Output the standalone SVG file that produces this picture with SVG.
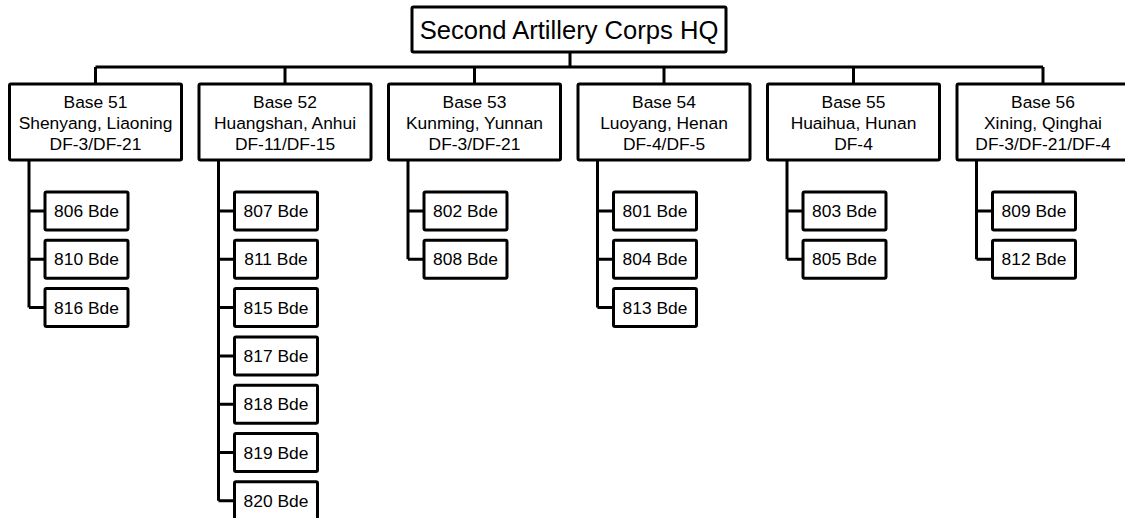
<svg xmlns="http://www.w3.org/2000/svg" width="1125" height="518" viewBox="0 0 1125 518">
<style>
.box{fill:#fff;stroke:#000;stroke-width:3}
.ln{fill:none;stroke:#000;stroke-width:3}
text{font-family:"Liberation Sans",Arial,sans-serif;fill:#000;text-anchor:middle}
.b{font-size:17.4px}
.hq{font-size:25.6px}
</style>
<rect width="1125" height="518" fill="#fff"/>
<g id="connectors" class="ln">
<path d="M570 52V67M95.5 67H1043"/>
<path d="M95.5 67V84M285 67V84M474.5 67V84M664 67V84M853.5 67V84M1043 67V84"/>
<path d="M29 160V307.6M29 211H45M29 259.3H45M29 307.6H45"/>
<path d="M218.5 160V500.8M218.5 211H234.5M218.5 259.3H234.5M218.5 307.6H234.5M218.5 355.9H234.5M218.5 404.2H234.5M218.5 452.5H234.5M218.5 500.8H234.5"/>
<path d="M408 160V259.3M408 211H424M408 259.3H424"/>
<path d="M597.5 160V307.6M597.5 211H613.5M597.5 259.3H613.5M597.5 307.6H613.5"/>
<path d="M787 160V259.3M787 211H803M787 259.3H803"/>
<path d="M976.5 160V259.3M976.5 211H992.5M976.5 259.3H992.5"/>
</g>
<g id="hq"><rect class="box" x="412" y="7" width="314" height="45" rx="1.5"/><text class="hq" x="569" y="38.5">Second Artillery Corps HQ</text></g>
<g id="base51"><rect class="box" x="9.5" y="84" width="172" height="76" rx="1.5"/><text class="b" x="95.5" y="108">Base 51</text><text class="b" x="95.5" y="129">Shenyang, Liaoning</text><text class="b" x="95.5" y="150">DF-3/DF-21</text></g>
<g id="base52"><rect class="box" x="199" y="84" width="172" height="76" rx="1.5"/><text class="b" x="285" y="108">Base 52</text><text class="b" x="285" y="129">Huangshan, Anhui</text><text class="b" x="285" y="150">DF-11/DF-15</text></g>
<g id="base53"><rect class="box" x="388.5" y="84" width="172" height="76" rx="1.5"/><text class="b" x="474.5" y="108">Base 53</text><text class="b" x="474.5" y="129">Kunming, Yunnan</text><text class="b" x="474.5" y="150">DF-3/DF-21</text></g>
<g id="base54"><rect class="box" x="578" y="84" width="172" height="76" rx="1.5"/><text class="b" x="664" y="108">Base 54</text><text class="b" x="664" y="129">Luoyang, Henan</text><text class="b" x="664" y="150">DF-4/DF-5</text></g>
<g id="base55"><rect class="box" x="767.5" y="84" width="172" height="76" rx="1.5"/><text class="b" x="853.5" y="108">Base 55</text><text class="b" x="853.5" y="129">Huaihua, Hunan</text><text class="b" x="853.5" y="150">DF-4</text></g>
<g id="base56"><rect class="box" x="957" y="84" width="172" height="76" rx="1.5"/><text class="b" x="1043" y="108">Base 56</text><text class="b" x="1043" y="129">Xining, Qinghai</text><text class="b" x="1043" y="150">DF-3/DF-21/DF-4</text></g>
<g id="b806"><rect class="box" x="45" y="192" width="83" height="38" rx="1.5"/><text class="b" x="86.5" y="217">806 Bde</text></g>
<g id="b810"><rect class="box" x="45" y="240.3" width="83" height="38" rx="1.5"/><text class="b" x="86.5" y="265.3">810 Bde</text></g>
<g id="b816"><rect class="box" x="45" y="288.6" width="83" height="38" rx="1.5"/><text class="b" x="86.5" y="313.6">816 Bde</text></g>
<g id="b807"><rect class="box" x="234.5" y="192" width="83" height="38" rx="1.5"/><text class="b" x="276" y="217">807 Bde</text></g>
<g id="b811"><rect class="box" x="234.5" y="240.3" width="83" height="38" rx="1.5"/><text class="b" x="276" y="265.3">811 Bde</text></g>
<g id="b815"><rect class="box" x="234.5" y="288.6" width="83" height="38" rx="1.5"/><text class="b" x="276" y="313.6">815 Bde</text></g>
<g id="b817"><rect class="box" x="234.5" y="336.9" width="83" height="38" rx="1.5"/><text class="b" x="276" y="361.9">817 Bde</text></g>
<g id="b818"><rect class="box" x="234.5" y="385.2" width="83" height="38" rx="1.5"/><text class="b" x="276" y="410.2">818 Bde</text></g>
<g id="b819"><rect class="box" x="234.5" y="433.5" width="83" height="38" rx="1.5"/><text class="b" x="276" y="458.5">819 Bde</text></g>
<g id="b820"><rect class="box" x="234.5" y="481.8" width="83" height="38" rx="1.5"/><text class="b" x="276" y="506.8">820 Bde</text></g>
<g id="b802"><rect class="box" x="424" y="192" width="83" height="38" rx="1.5"/><text class="b" x="465.5" y="217">802 Bde</text></g>
<g id="b808"><rect class="box" x="424" y="240.3" width="83" height="38" rx="1.5"/><text class="b" x="465.5" y="265.3">808 Bde</text></g>
<g id="b801"><rect class="box" x="613.5" y="192" width="83" height="38" rx="1.5"/><text class="b" x="655" y="217">801 Bde</text></g>
<g id="b804"><rect class="box" x="613.5" y="240.3" width="83" height="38" rx="1.5"/><text class="b" x="655" y="265.3">804 Bde</text></g>
<g id="b813"><rect class="box" x="613.5" y="288.6" width="83" height="38" rx="1.5"/><text class="b" x="655" y="313.6">813 Bde</text></g>
<g id="b803"><rect class="box" x="803" y="192" width="83" height="38" rx="1.5"/><text class="b" x="844.5" y="217">803 Bde</text></g>
<g id="b805"><rect class="box" x="803" y="240.3" width="83" height="38" rx="1.5"/><text class="b" x="844.5" y="265.3">805 Bde</text></g>
<g id="b809"><rect class="box" x="992.5" y="192" width="83" height="38" rx="1.5"/><text class="b" x="1034" y="217">809 Bde</text></g>
<g id="b812"><rect class="box" x="992.5" y="240.3" width="83" height="38" rx="1.5"/><text class="b" x="1034" y="265.3">812 Bde</text></g>
</svg>
